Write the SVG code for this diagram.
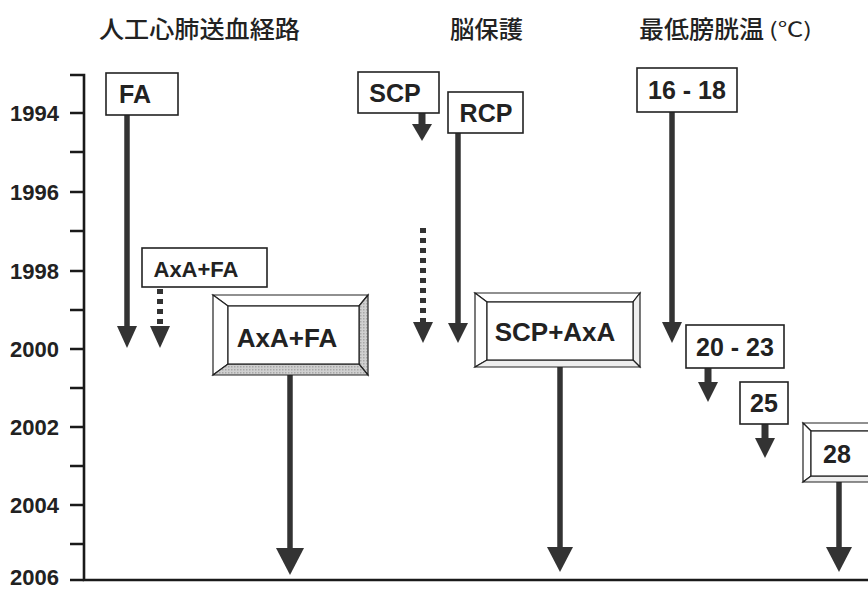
<svg xmlns="http://www.w3.org/2000/svg" width="868" height="591" viewBox="0 0 868 591">
<style>
.hdr{font-family:"Noto Sans CJK JP","Noto Sans CJK SC",sans-serif;font-size:24px;font-weight:500;fill:#222}
.unit{font-family:"Noto Sans CJK JP","Noto Sans CJK SC",sans-serif;font-size:20px;fill:#222}
.yr{font-family:"Liberation Sans",Arial,sans-serif;font-weight:bold;font-size:22px;fill:#222;text-anchor:end}
.lbl{font-family:"Liberation Sans",Arial,sans-serif;font-weight:bold;font-size:25px;fill:#222;text-anchor:middle}
.big{font-size:26px}
.box{fill:#fff;stroke:#222;stroke-width:1.6}
.bev{stroke:#222;stroke-width:1.2}
.axis{stroke:#1a1a1a;stroke-width:2.6;fill:none}
.shaft{stroke:#333;stroke-width:5.5;fill:none}
.dot{stroke:#333;stroke-width:6;stroke-dasharray:5 5;fill:none}
.head{fill:#333}
</style>
<defs>
<pattern id="hatch" width="3" height="3" patternUnits="userSpaceOnUse">
<rect width="3" height="3" fill="#d0d0d0"/>
<rect width="1.5" height="1.5" fill="#a8a8a8"/>
</pattern>
</defs>

<!-- headers -->
<g id="headers">
<text class="hdr" x="99" y="38" textLength="201" lengthAdjust="spacingAndGlyphs">人工心肺送血経路</text>
<text class="hdr" x="450" y="38" textLength="73" lengthAdjust="spacingAndGlyphs">脳保護</text>
<text class="hdr" x="639" y="38" textLength="125" lengthAdjust="spacingAndGlyphs">最低膀胱温</text>
<text class="unit" x="769" y="37" textLength="43" lengthAdjust="spacingAndGlyphs">(℃)</text>
</g>

<!-- axis -->
<g id="axis">
<path class="axis" d="M70 75 H84 V580 H868"/>
<path class="axis" d="M70 113H84 M70 152H84 M70 192H84 M70 231H84 M70 271H84 M70 310H84 M70 349H84 M70 388H84 M70 427H84 M70 466H84 M70 505H84 M70 544H84 M70 580H84"/>
<text class="yr" x="59" y="121">1994</text>
<text class="yr" x="59" y="200">1996</text>
<text class="yr" x="59" y="279">1998</text>
<text class="yr" x="59" y="357">2000</text>
<text class="yr" x="59" y="435">2002</text>
<text class="yr" x="59" y="513">2004</text>
<text class="yr" x="59" y="585">2006</text>
</g>

<!-- connectors -->
<g id="connectors">
<path class="shaft" d="M127 115V328"/><polygon class="head" points="117,326 137,326 127,348"/>
<path class="dot" d="M160 289V326"/><polygon class="head" points="150,326 170,326 160,348"/>
<path class="shaft" d="M290 375V550"/><polygon class="head" points="276,548 304,548 290,575"/>
<path class="shaft" d="M422 113V126" style="stroke-width:7"/><polygon class="head" points="412,124 432,124 422,141"/>
<path class="dot" d="M423 228V322"/><polygon class="head" points="413,322 433,322 423,343"/>
<path class="shaft" d="M458 133V325"/><polygon class="head" points="448,323 468,323 458,343"/>
<path class="shaft" d="M560 367V549"/><polygon class="head" points="547,547 573,547 560,572"/>
<path class="shaft" d="M672 112V324"/><polygon class="head" points="662,322 682,322 672,343"/>
<path class="shaft" d="M708 368V384" style="stroke-width:7"/><polygon class="head" points="698,382 718,382 708,402"/>
<path class="shaft" d="M765 424V440" style="stroke-width:7"/><polygon class="head" points="755,438 775,438 765,458"/>
<path class="shaft" d="M839 482V549"/><polygon class="head" points="826,547 852,547 839,572"/>
</g>

<!-- nodes -->
<g id="node-fa">
<rect class="box" x="106" y="73" width="72" height="42"/>
<text class="lbl" x="135" y="103">FA</text>
</g>
<g id="node-axafa-small">
<rect class="box" x="142" y="248" width="125" height="39"/>
<text class="lbl" x="196" y="277" style="font-size:22px">AxA+FA</text>
</g>
<g id="node-axafa-big">
<polygon points="213,295 368,295 359,306 228,306" fill="#fff" class="bev"/>
<polygon points="213,295 228,306 228,364 213,375" fill="#fff" class="bev"/>
<polygon points="368,295 368,375 359,364 359,306" fill="url(#hatch)" class="bev"/>
<polygon points="213,375 228,364 359,364 368,375" fill="url(#hatch)" class="bev"/>
<rect class="box" x="228" y="306" width="131" height="58" style="stroke-width:1.2"/>
<text class="lbl big" x="287" y="347">AxA+FA</text>
</g>
<g id="node-scp">
<rect class="box" x="358" y="72" width="81" height="41"/>
<text class="lbl" x="395" y="102">SCP</text>
</g>
<g id="node-rcp">
<rect class="box" x="448" y="92" width="75" height="41"/>
<text class="lbl" x="486" y="122">RCP</text>
</g>
<g id="node-scpaxa">
<polygon points="475,293 640,293 633,302 487,302" fill="#fff" class="bev"/>
<polygon points="475,293 487,302 487,360 475,367" fill="#fff" class="bev"/>
<polygon points="640,293 640,367 633,360 633,302" fill="#eee" class="bev"/>
<polygon points="475,367 487,360 633,360 640,367" fill="#eee" class="bev"/>
<rect class="box" x="487" y="302" width="146" height="58" style="stroke-width:1.2"/>
<text class="lbl big" x="555" y="341">SCP+AxA</text>
</g>
<g id="node-16-18">
<rect class="box" x="637" y="68" width="100" height="44"/>
<text class="lbl" x="687" y="99">16 - 18</text>
</g>
<g id="node-20-23">
<rect class="box" x="686" y="325" width="98" height="43"/>
<text class="lbl" x="735" y="356">20 - 23</text>
</g>
<g id="node-25">
<rect class="box" x="740" y="382" width="48" height="42"/>
<text class="lbl" x="764" y="412">25</text>
</g>
<g id="node-28">
<polygon points="803,423 880,423 872,431 811,431" fill="#fff" class="bev"/>
<polygon points="803,423 811,431 811,476 803,482" fill="#fff" class="bev"/>
<polygon points="803,482 811,476 872,476 880,482" fill="#eee" class="bev"/>
<rect class="box" x="811" y="431" width="70" height="45" style="stroke-width:1.2"/>
<text class="lbl" x="837" y="463">28</text>
</g>
</svg>
